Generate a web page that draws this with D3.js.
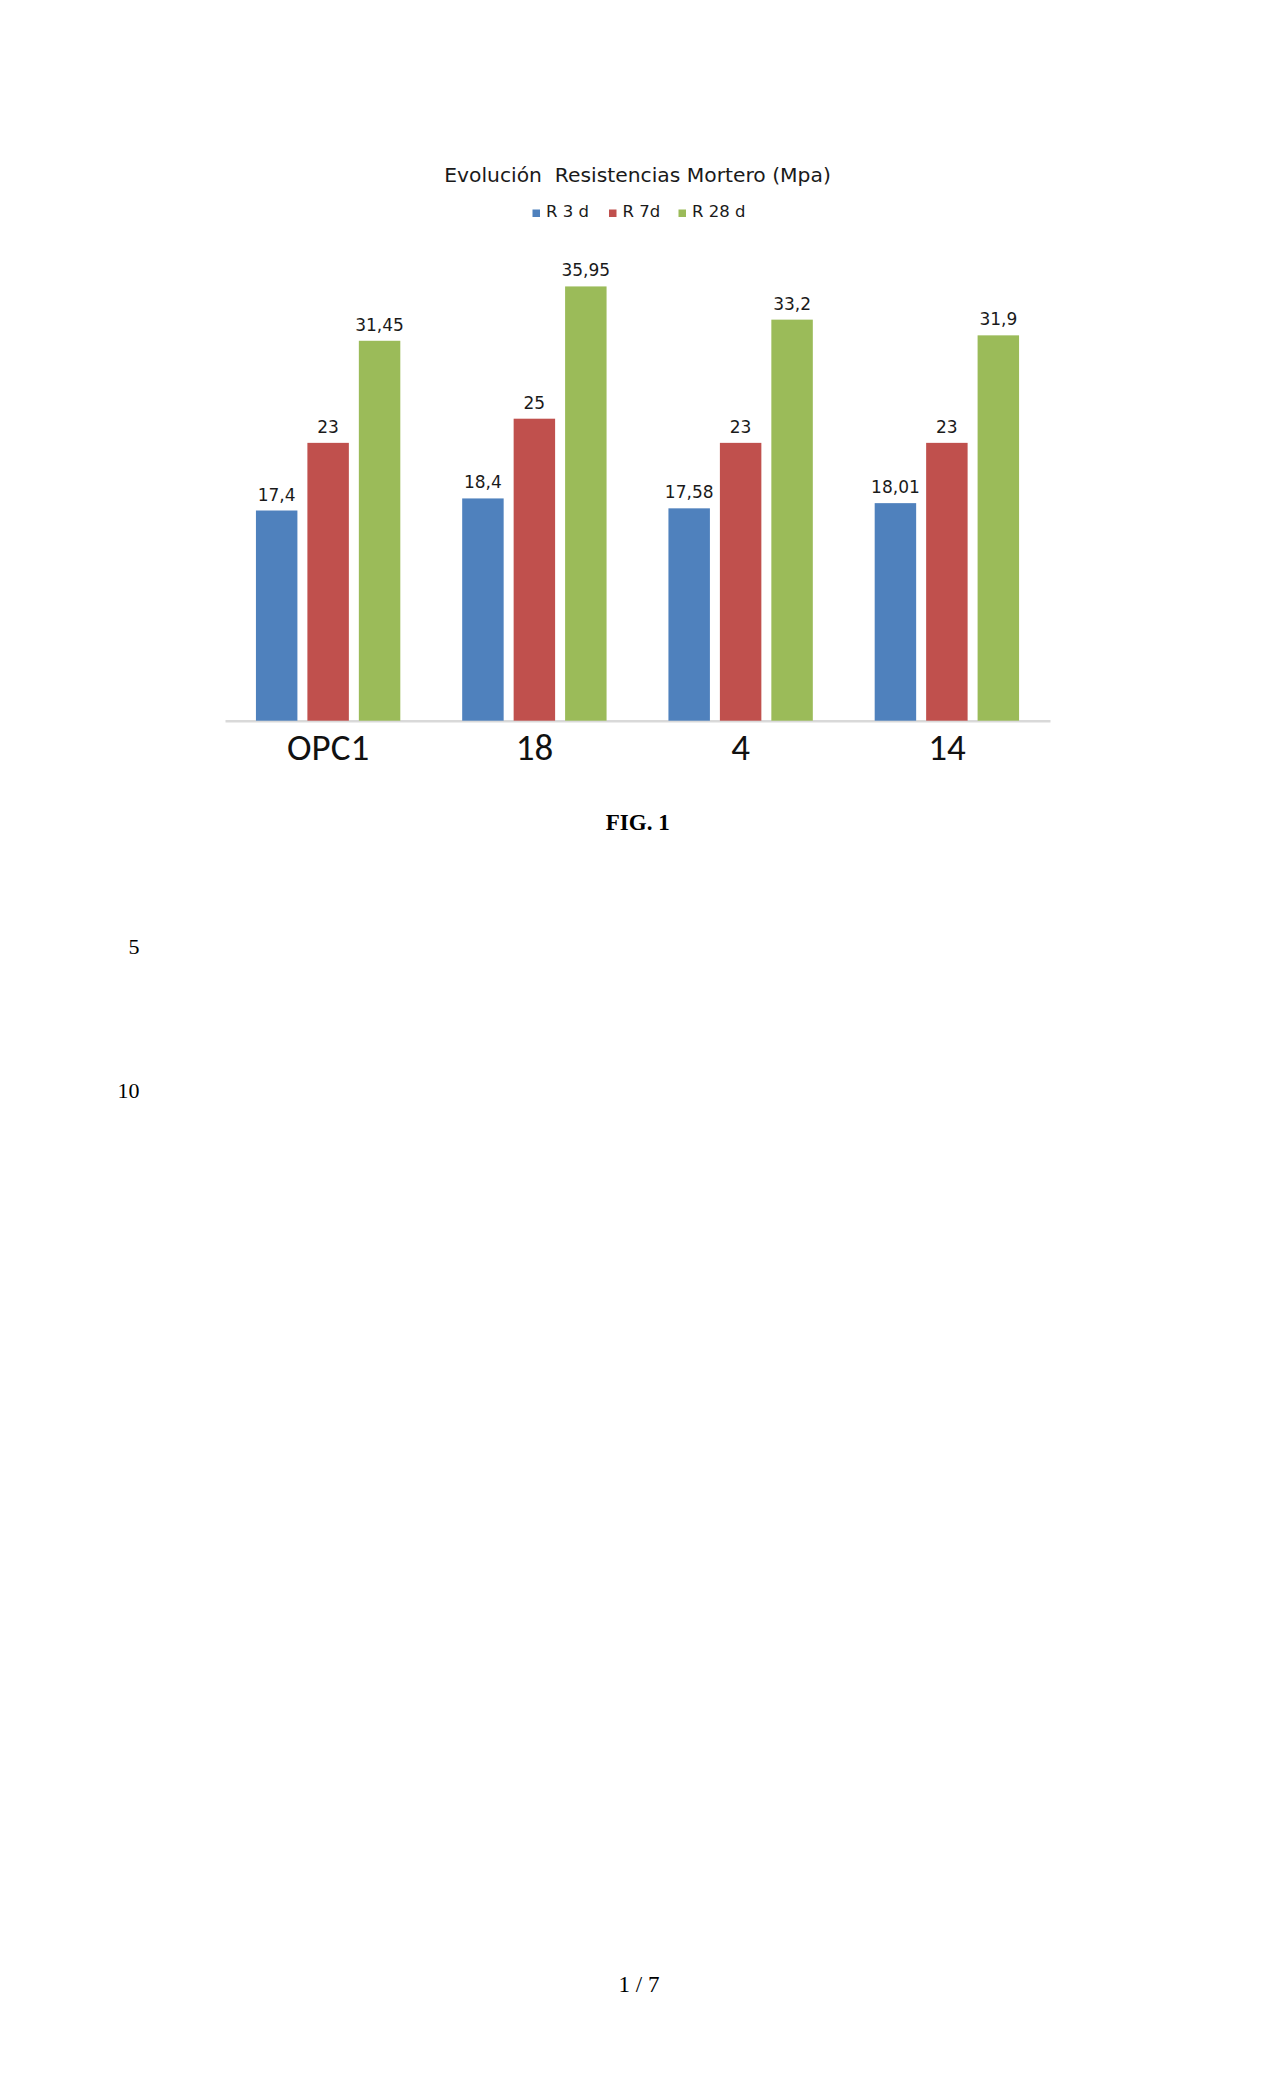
<!DOCTYPE html>
<html>
<head>
<meta charset="utf-8">
<script src="https://cdn.jsdelivr.net/npm/d3@7"></script>
<style>
  html, body { margin: 0; padding: 0; background: #ffffff; }
  svg { display: block; }
  text { white-space: pre; }
</style>
</head>
<body>
<script>
const categories = ["OPC1", "18", "4", "14"];
const seriesNames = ["R 3 d", "R 7d", "R 28 d"];
const r3 = [17.4, 18.4, 17.58, 18.01];
const r7 = [23, 25, 23, 23];
const r28 = [31.45, 35.95, 33.2, 31.9];
const labels3 = ["17,4", "18,4", "17,58", "18,01"];
const labels7 = ["23", "25", "23", "23"];
const labels28 = ["31,45", "35,95", "33,2", "31,9"];
const colors = ["#4f81bd", "#c0504d", "#9bbb59"];

const seriesValues = [r3, r7, r28];
const seriesLabels = [labels3, labels7, labels28];

const W = 1275, H = 2100;
const svg = d3.select("body").append("svg").attr("width", W).attr("height", H);

const x0 = d3.scaleBand().domain(categories).range([225, 1050]).paddingInner(0.3).paddingOuter(0.15);
const x1 = d3.scaleBand().domain(seriesNames).range([0, x0.bandwidth()]).paddingInner(0.194);
const y = d3.scaleLinear().domain([0, 40]).range([720.7, 237.5]);

// Title
svg.append("text").attr("x", 637.5).attr("y", 181.7).attr("text-anchor", "middle")
  .attr("xml:space", "preserve")
  .attr("font-family", "DejaVu Sans").attr("font-size", 20.3).attr("fill", "#1a1a1a")
  .text("Evolución  Resistencias Mortero (Mpa)");

// Legend
const legendX = [532.5, 609, 678.5];
const lg = svg.append("g");
seriesNames.forEach((s, i) => {
  lg.append("rect").attr("x", legendX[i]).attr("y", 209.5).attr("width", 7.5).attr("height", 7.5).attr("fill", colors[i]);
  lg.append("text").attr("x", legendX[i] + 13.5).attr("y", 216.7)
    .attr("font-family", "DejaVu Sans").attr("font-size", 16.5).attr("fill", "#1a1a1a").text(s);
});

// Axis baseline
const xAxis = d3.axisBottom(x0).tickSize(0).tickPadding(0).tickSizeOuter(0);
const axG = svg.append("g").attr("transform", `translate(0,${y(0)})`).call(xAxis);
axG.select(".domain").attr("stroke", "#d9d9d9").attr("stroke-width", 2.5);
axG.selectAll(".tick text").attr("font-family", "Carlito, Calibri, Lato, sans-serif").attr("font-size", 37)
  .attr("fill", "#111").attr("dy", 0).attr("y", 39.5);

// Bars
const groups = svg.append("g").selectAll("g").data(categories).join("g")
  .attr("transform", d => `translate(${x0(d)},0)`);

seriesNames.forEach((s, si) => {
  groups.append("rect")
    .attr("x", x1(s))
    .attr("width", x1.bandwidth())
    .attr("y", (d, ci) => y(seriesValues[si][ci]))
    .attr("height", (d, ci) => y(0) - y(seriesValues[si][ci]))
    .attr("fill", colors[si]);
  groups.append("text")
    .attr("x", x1(s) + x1.bandwidth() / 2)
    .attr("y", (d, ci) => y(seriesValues[si][ci]) - 10)
    .attr("text-anchor", "middle")
    .attr("font-family", "DejaVu Sans").attr("font-size", 17).attr("fill", "#1a1a1a")
    .text((d, ci) => seriesLabels[si][ci]);
});

// Figure caption and page marks
svg.append("text").attr("x", 637.7).attr("y", 830).attr("text-anchor", "middle")
  .attr("font-family", "Liberation Serif, Times New Roman, serif").attr("font-weight", "bold").attr("font-size", 23)
  .attr("fill", "#000").text("FIG. 1");
svg.append("text").attr("x", 139.5).attr("y", 954.3).attr("text-anchor", "end")
  .attr("font-family", "Liberation Serif, Times New Roman, serif").attr("font-size", 22).attr("fill", "#000").text("5");
svg.append("text").attr("x", 139.5).attr("y", 1098.3).attr("text-anchor", "end")
  .attr("font-family", "Liberation Serif, Times New Roman, serif").attr("font-size", 22).attr("fill", "#000").text("10");
svg.append("text").attr("x", 639).attr("y", 1991.7).attr("text-anchor", "middle")
  .attr("font-family", "Liberation Serif, Times New Roman, serif").attr("font-size", 23).attr("fill", "#000").text("1 / 7");
</script>
</body>
</html>
